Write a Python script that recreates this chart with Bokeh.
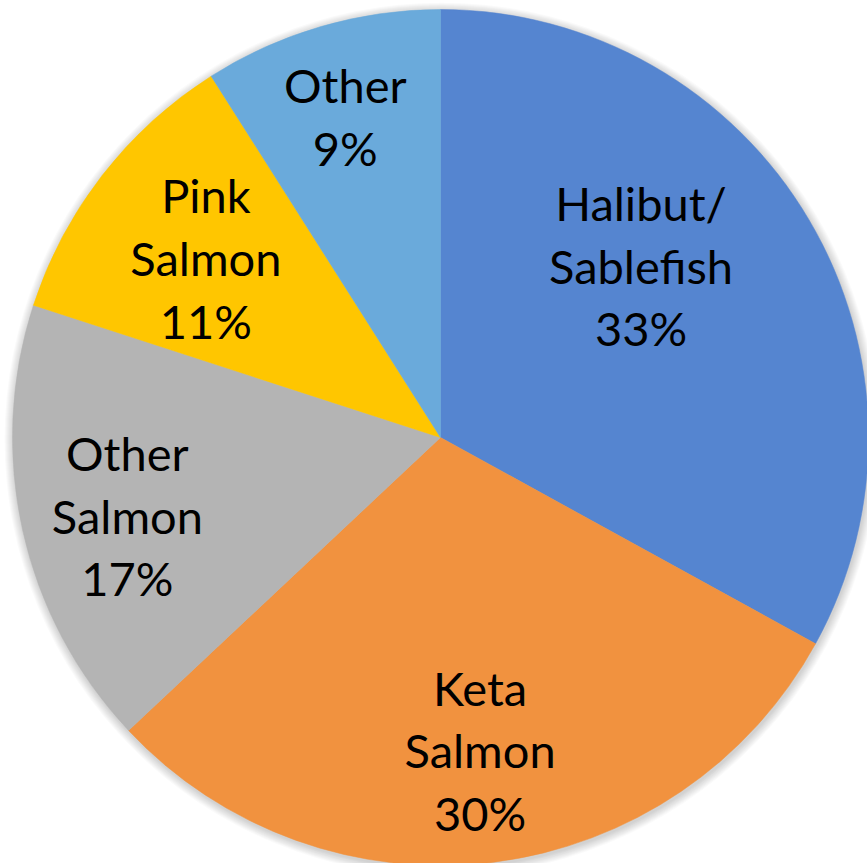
import math
from bokeh.plotting import figure
from bokeh.models import Range1d, ColumnDataSource
from bokeh.core.properties import value
from bokeh.embed import file_html
from bokeh.resources import INLINE

# ---- data ----
categories = ["Halibut/\nSablefish", "Keta\nSalmon", "Other\nSalmon", "Pink\nSalmon", "Other"]
shares = [33, 30, 17, 11, 9]
colors = ["#5585D0", "#F1923F", "#B4B4B4", "#FFC600", "#6AAADB"]

# label placement (style): radius fraction and angle nudge (degrees, clockwise)
label_radius = [0.617, 0.737, 0.754, 0.69, 0.783]
label_nudge = [-10.0, 0.0, -1.4, -0.4, -0.3]

W, H = 867, 863
cx, cy = 440, H - 437
R = 428

total = float(sum(shares))
starts, ends, lx, ly, texts = [], [], [], [], []
acc = 0.0
for i, s in enumerate(shares):
    a0 = acc / total * 360.0          # clockwise from 12 o'clock
    a1 = (acc + s) / total * 360.0
    acc += s
    starts.append(math.radians(90 - a0))
    ends.append(math.radians(90 - a1))
    mid = (a0 + a1) / 2 + label_nudge[i]
    r = label_radius[i] * R
    lx.append(cx + r * math.sin(math.radians(mid)))
    ly.append(cy + r * math.cos(math.radians(mid)))
    texts.append(f"{categories[i]}\n{round(s / total * 100)}%")

src = ColumnDataSource(dict(start=starts, end=ends, color=colors, x=lx, y=ly, text=texts))

p = figure(width=W, height=H, output_backend="svg", toolbar_location=None,
           x_range=Range1d(0, W), y_range=Range1d(0, H),
           x_axis_location=None, y_axis_location=None, min_border=0)
p.grid.visible = False
p.outline_line_color = None
p.background_fill_color = "white"
p.border_fill_color = "white"

# soft shadow
for k in range(1, 10):
    p.circle(x=cx + 1, y=cy - 2, radius=R + k, fill_color="black",
             fill_alpha=0.018, line_color=None)

p.wedge(x=cx, y=cy, radius=R, start_angle="start", end_angle="end",
        direction="clock", fill_color="color", line_color="color",
        line_width=0.5, source=src)

p.text(x="x", y="y", text="text", source=src, text_font=value("Lato"),
       text_font_size="47px", text_align="center", text_baseline="middle",
       text_line_height=1.12, text_color="black")

open("out.html", "w").write(file_html(p, INLINE))
